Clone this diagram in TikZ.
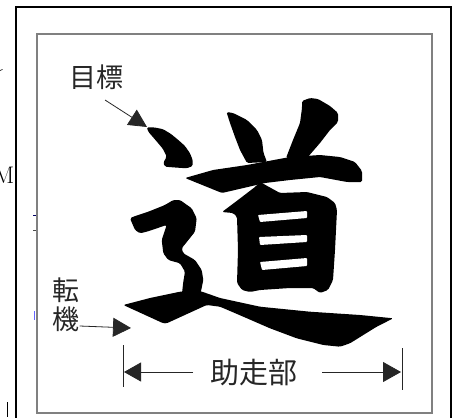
\documentclass[tikz,border=0pt]{standalone}
\usepackage{fontspec}
\newfontfamily\jp{Noto Sans CJK JP}
\usetikzlibrary{arrows.meta}
\tikzset{
  ink/.style={fill=black, draw=none, rounded corners=1.5pt},
  hole/.style={fill=white, draw=none, rounded corners=0.8pt},
  lbl/.style={font=\jp\fontsize{27}{28}\selectfont, text=black!85, inner sep=0pt},
  conn/.style={draw=black!85, line width=0.8pt},
  tri/.style={-{Triangle[length=18pt,width=18pt]}},
  dimbar/.style={draw=black!85, line width=1pt},
}
\begin{document}
\begin{tikzpicture}[x=1pt,y=-1pt]
\useasboundingbox (0,0) rectangle (454,417);
\clip (0,0) rectangle (454,417);
\fill[white] (0,0) rectangle (454,417);

% frames
\draw[line width=1.8pt] (16,7) rectangle (451,440);
\draw[black!50, line width=1.5pt] (37,34) rectangle (432,413);

% stray fragments at the left edge
\node[font=\fontsize{24}{24}\selectfont, anchor=east, inner sep=0pt] (mfrag) at (14.5,175) {M};
\draw[line width=0.6pt] (0,70.5) -- (2.5,69.5);
\draw[blue!40!black, line width=0.8pt] (33,215) -- (36,215);
\draw[black!70, line width=0.8pt] (33,230) -- (36,230);
\draw[blue!60, line width=0.8pt] (34,311) -- (34,320);
\draw[line width=0.8pt] (7.5,402) -- (7.5,417);

% calligraphic character
% first dot
\fill[ink] (146.7,127.3) -- (155,127.5) -- (163.3,129.3) -- (171,134) -- (178.3,140) -- (185,146) -- (190,153.3) -- (192.7,160) -- (192.7,166) -- (186.7,168.3) -- (175,167.5) -- (165,166.7) -- (163.3,162.7) -- (166.7,156.7) -- (163,149) -- (158.3,143.3) -- (152,136) -- (148.3,131.7) -- cycle;
% left ear
\fill[ink] (226.5,112) -- (233,113) -- (247,120) -- (257,130) -- (262,140) -- (263.5,153) -- (267,162) -- (247,163) -- (240,150) -- (235,137) -- (230,123) -- cycle;
% right diagonal
\fill[ink] (302,101) -- (310,98) -- (318,99) -- (330,106) -- (338,113) -- (338,122) -- (330,130) -- (320,143) -- (307,158) -- (286,158) -- (293,140) -- (300,123) -- (302,108) -- cycle;
% horizontal bar
\fill[ink] (185,178) -- (213,170) -- (247,165) -- (290,157) -- (320,155) -- (340,157) -- (355,162) -- (362,171) -- (362,182) -- (347,182) -- (320,177) -- (290,180) -- (265,183) -- (222,193) -- cycle;
% box
\fill[ink] (260,182) -- (280,193) -- (307,192) -- (327,197) -- (335,203) -- (337,210) -- (335,250) -- (333,280) -- (328,290) -- (320,293) -- (313,288) -- (290,288) -- (260,290) -- (250,292) -- (242,290) -- (237,283) -- (238,250) -- (237,217) -- (233,213) -- (222,212) -- (238,200) -- (255,187) -- cycle;
\fill[hole] (258,215) -- (307,211) -- (307,218) -- (260,222) -- cycle;
\fill[hole] (259,237) -- (307,235) -- (307,242) -- (260,245) -- cycle;
\fill[hole] (260,262) -- (307,258) -- (307,266) -- (262,270) -- cycle;
% zigzag stroke
\fill[ink] (130,218.3) -- (135,230) -- (140,233.3) -- (146.7,231.7) -- (166.7,225) -- (161.7,240) -- (163.3,253.3) -- (168.3,260) -- (180,263.3) -- (185,271.7) -- (183.3,281.7) -- (181.7,296) -- (200,296) -- (203.3,280) -- (201.7,270) -- (195,260) -- (183.3,253.3) -- (181.7,248.3) -- (195,231.7) -- (196.7,218.3) -- (191.7,208.3) -- (180,200) -- (173.3,200) -- (165,205) -- (148.3,211.7) -- (133.3,216.7) -- cycle;
% bottom sweep
\fill[ink] (123.3,305) -- (150,298) -- (180,291.7) -- (196.7,290) -- (206.7,293.3) -- (220,298) -- (260,306.7) -- (310,311.7) -- (360,315) -- (393.3,318.3) -- (376.7,326.7) -- (363.3,335) -- (350,343.3) -- (340,346.7) -- (323.3,345) -- (296.7,338.3) -- (270,328.3) -- (243.3,316.7) -- (220,306.7) -- (206.7,305) -- (166.7,323.3) -- (163.3,323.3) -- cycle;

% labels
\node[lbl] (goal) at (96,77) {目標};
\node[lbl] (ten) at (66,290) {転};
\node[lbl] (ki) at (66,319) {機};
\node[lbl, font=\jp\fontsize{29}{30}\selectfont] (run) at (254,373) {助走部};

% connectors
\coordinate (goalS) at (105,100);
\coordinate (goalT) at (147,127);
\draw[conn,tri] (goalS) -- (goalT);
\coordinate (kiT) at (131,328);
\draw[conn,-{Triangle[length=18pt,width=19pt]}] ([yshift=-7pt]ki.east) -- (kiT);

\coordinate (barLt) at (123,345);
\coordinate (barLb) at (123,387);
\coordinate (barRt) at (402,348);
\coordinate (barRb) at (402,390);
\draw[dimbar] (barLt) -- (barLb);
\draw[dimbar] (barRt) -- (barRb);
\coordinate (dimL) at (124,372);
\coordinate (dimR) at (401,372);
\coordinate (runL) at (193,372);
\coordinate (runR) at (322,372);
\draw[conn,-{Triangle[length=17pt,width=19pt]}] (runL) -- (dimL);
\draw[conn,-{Triangle[length=18pt,width=20pt]}] (runR) -- (dimR);
\end{tikzpicture}
\end{document}
